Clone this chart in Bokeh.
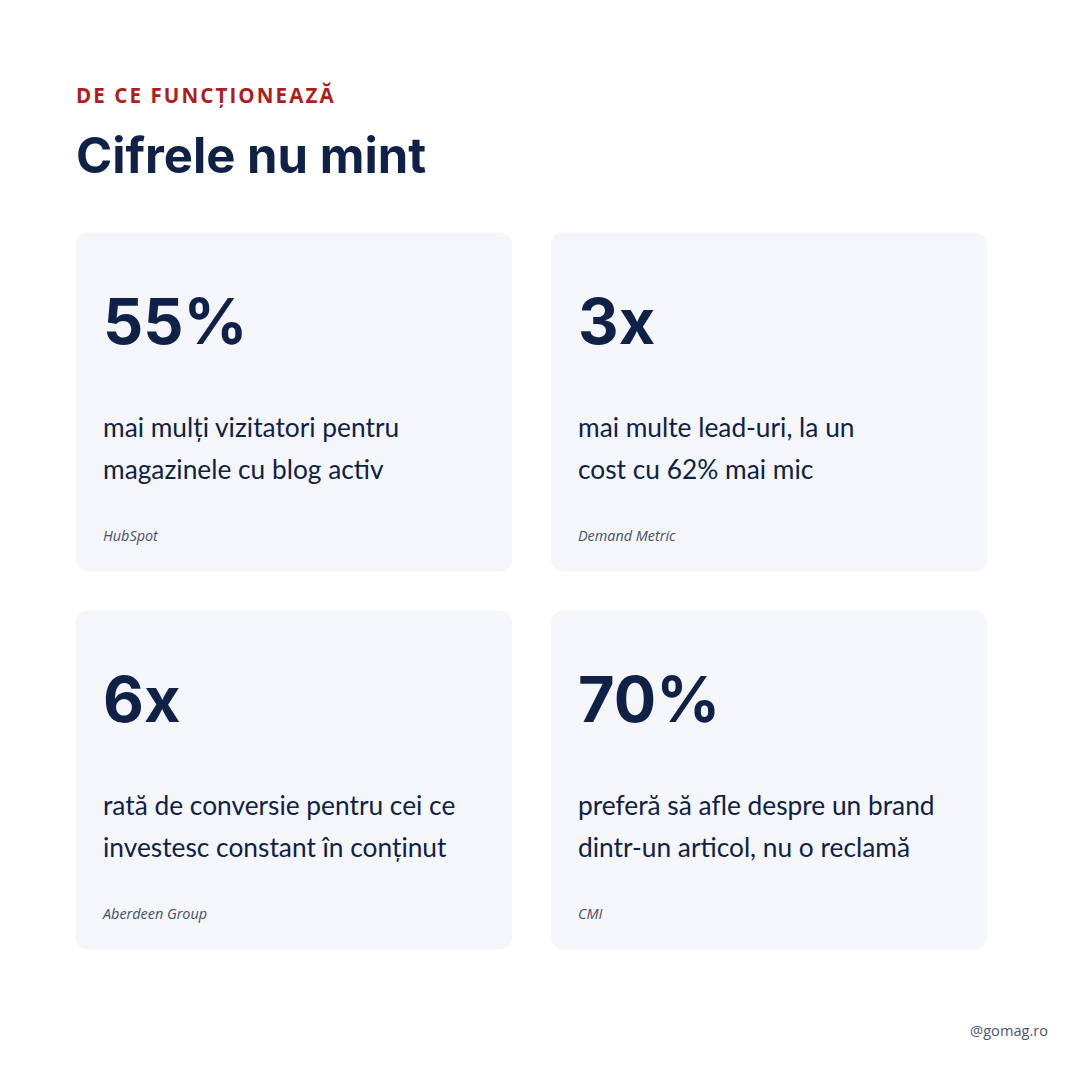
from bokeh.core.properties import value
from bokeh.embed import file_html
from bokeh.plotting import figure
from bokeh.resources import INLINE

# card contents, left to right, top to bottom
stats = ["55%", "3x", "6x", "70%"]
line_one = ["mai mulți vizitatori pentru", "mai multe lead-uri, la un",
            "rată de conversie pentru cei ce", "preferă să afle despre un brand"]
line_two = ["magazinele cu blog activ", "cost cu 62% mai mic",
            "investesc constant în conținut", "dintr-un articol, nu o reclamă"]
sources = ["HubSpot", "Demand Metric", "Aberdeen Group", "CMI"]

eyebrow = "DE CE FUNCȚIONEAZĂ"
title = "Cifrele nu mint"
handle = "@gomag.ro"

NAVY = "#0f2147"
CARD = "#f4f6fa"

# the plot works in picture pixels, the offsets take out a small shift of the page
p = figure(width=1064, height=1064, x_range=(0.5, 1064.5), y_range=(1065, 1),
           output_backend="svg", toolbar_location=None, min_border=0)
p.axis.visible = False
p.grid.visible = False
p.outline_line_color = None
p.background_fill_color = "white"

lefts = [76 + 475 * (i % 2) for i in range(4)]
tops = [233 + 378 * (i // 2) for i in range(4)]
rights = [x + 436 for x in lefts]
bottoms = [y + 339 for y in tops]
p.quad(left=lefts, right=rights, top=tops, bottom=bottoms, fill_color=CARD,
       line_color=None, border_radius=12)

text_x = [x + 27 for x in lefts]


def put(xs, ys, texts, font, size, color, style="normal", align="left"):
    # alphabetic text lands about 0.41em under the y it is given
    ys = [y - 0.41 * size for y in ys]
    p.text(x=xs, y=ys, text=texts, text_font=value(font), text_font_size=f"{size}px",
           text_color=color, text_font_style=style, text_align=align,
           text_baseline="alphabetic")


# no letter spacing in bokeh text, hair spaces stand in for it
put([76], [104], ["\u200a".join(eyebrow)], "Open Sans", 20.6, "#b01c20", "bold")
put([76], [176], [title], "Inter", 49, NAVY, "bold")
put(text_x, [y + 114 for y in tops], stats, "Inter", 63, NAVY, "bold")
put(text_x, [y + 205 for y in tops], line_one, "Lato", 26.3, NAVY)
put(text_x, [y + 247 for y in tops], line_two, "Lato", 26.3, NAVY)
put(text_x, [y + 309 for y in tops], sources, "Open Sans", 14.4, "#44506e", "italic")
put([1048], [1036], [handle], "Open Sans", 14.6, "#4a5670", align="right")

open("out.html", "w").write(file_html(p, INLINE))
